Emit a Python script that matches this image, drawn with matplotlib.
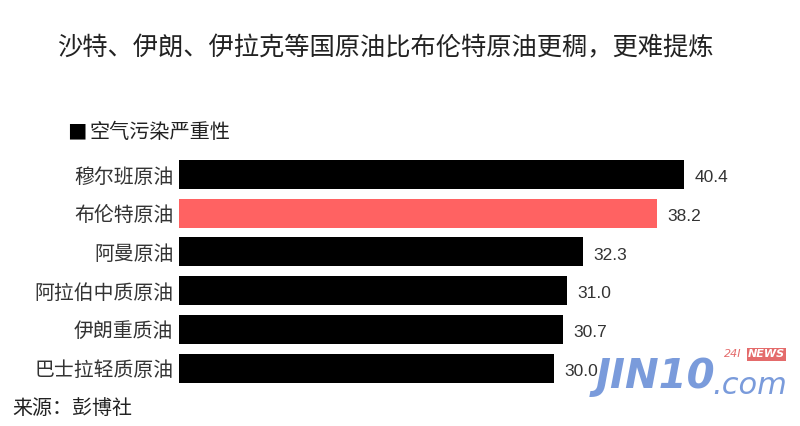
import matplotlib.pyplot as plt

plt.rcParams['font.family'] = ['Noto Sans CJK SC', 'DejaVu Sans']

# data
crudes = ['穆尔班原油', '布伦特原油', '阿曼原油', '阿拉伯中质原油', '伊朗重质油', '巴士拉轻质原油']
pollution = [40.4, 38.2, 32.3, 31.0, 30.7, 30.0]
highlight = '布伦特原油'

colors = ['#ff6262' if c == highlight else '#000000' for c in crudes]

fig = plt.figure(figsize=(8, 4.26), dpi=100)
ax = fig.add_axes([179 / 800, 0.0907, 600 / 800, 0.545])

ypos = list(range(len(crudes)))
ax.barh(ypos, pollution, height=0.75, color=colors)
ax.set_xlim(0, 48)
ax.set_ylim(len(crudes) - 0.5, -0.5)

for y, v in zip(ypos, pollution):
    ax.text(v + 0.85, y + 0.08, f'{v:.1f}', va='center', ha='left',
            fontsize=12.5, color='#333333', family=['Liberation Sans', 'DejaVu Sans'])

ax.set_yticks(ypos)
ax.set_yticklabels(crudes, fontsize=14.3, color='#333333', fontweight='light')
ax.tick_params(axis='y', length=0, pad=4)
ax.set_xticks([])
for s in ax.spines.values():
    s.set_visible(False)

# title, legend, source
fig.text(0.071, 0.887, '沙特、伊朗、伊拉克等国原油比布伦特原油更稠，更难提炼',
         fontsize=18.2, color='#222222', va='center', ha='left', fontweight='light')
fig.text(0.084, 0.688, '■', fontsize=14, color='#000000', va='center', ha='left')
fig.text(0.112, 0.688, '空气污染严重性', fontsize=14.5, color='#222222', va='center',
         ha='left', fontweight='light')
fig.text(0.016, 0.042, '来源：彭博社', fontsize=14.4, color='#222222', va='center',
         ha='left', fontweight='light')

# watermark
wm = '#7a9bdb'
fig.text(0.745, 0.115, 'JIN10', fontsize=29, fontweight='bold', style='italic',
         color=wm, va='center', ha='left', family=['DejaVu Sans'])
fig.text(0.890, 0.095, '.com', fontsize=22, style='italic', color=wm,
         va='center', ha='left', family=['DejaVu Sans'])
fig.text(0.905, 0.168, '24I', fontsize=8, style='italic', color='#e46b6b',
         va='center', ha='left', family=['DejaVu Sans'])
fig.text(0.935, 0.168, 'NEWS', fontsize=8, style='italic', fontweight='bold', color='white',
         va='center', ha='left', family=['DejaVu Sans'],
         bbox=dict(boxstyle='square,pad=0.1', fc='#e46b6b', ec='none'))

plt.savefig('out.png', dpi=100)
